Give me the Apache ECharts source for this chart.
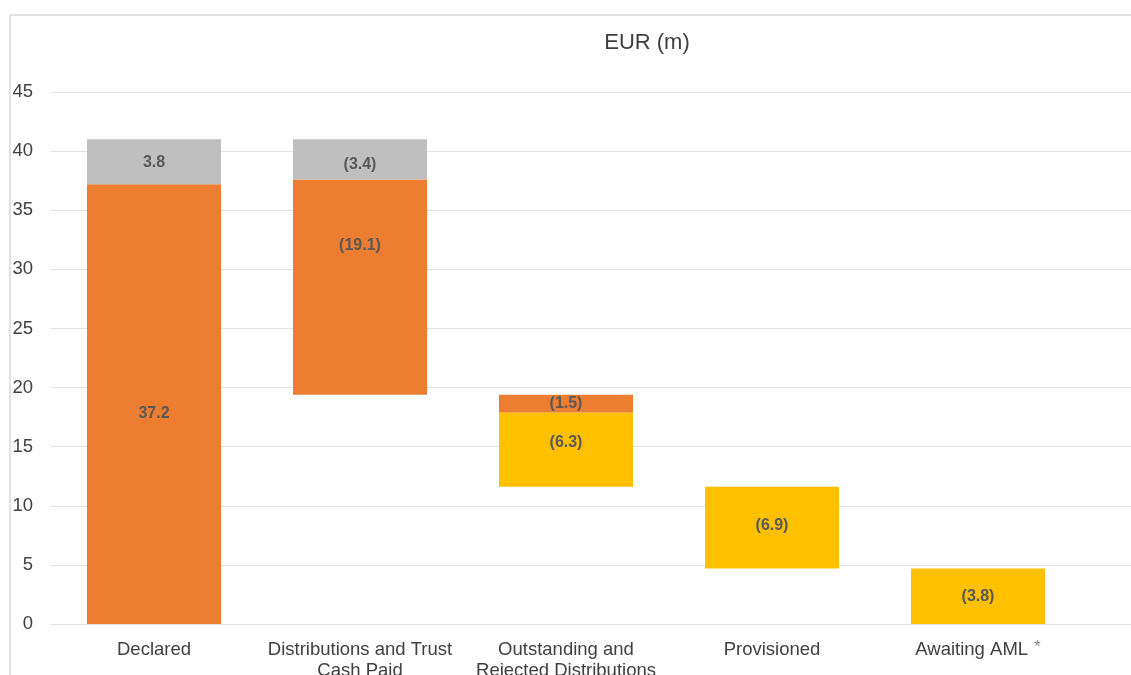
<!DOCTYPE html>
<html><head><meta charset="utf-8">
<script src="https://cdn.jsdelivr.net/npm/echarts@6/dist/echarts.min.js"></script>
<style>html,body{margin:0;padding:0;background:#fff;overflow:hidden}#c{width:1131px;height:675px}</style>
</head><body><div id="c"></div>
<script>
const categories = ['Declared', 'Distributions and Trust\nCash Paid', 'Outstanding and\nRejected Distributions', 'Provisioned', 'Awaiting AML'];
const baseValues   = [0, 19.4, 11.6, 4.7, 0];
const yellowValues = [0, 0, 6.3, 6.9, 4.7];
const orangeValues = [37.2, 18.2, 1.5, 0, 0];
const greyValues   = [3.8, 3.4, 0, 0, 0];
const yellowLabels = ['', '', '(6.3)', '(6.9)', '(3.8)'];
const orangeLabels = ['37.2', '(19.1)', '(1.5)', '', ''];
const greyLabels   = ['3.8', '(3.4)', '', '', ''];
const yTicks = [0, 5, 10, 15, 20, 25, 30, 35, 40, 45];

const FONT = 'Liberation Sans, Arial, sans-serif';
const chart = echarts.init(document.getElementById('c'));
const labelStyle = {show: true, position: 'inside', color: '#595959', fontWeight: 'bold', fontSize: 16, fontFamily: FONT};
function mk(vals, labels, extra) {
  return vals.map((v, i) => {
    const item = {value: v, label: Object.assign({}, labelStyle, {formatter: () => labels[i]})};
    if (!labels[i]) item.label.show = false;
    if (extra && extra[i]) Object.assign(item.label, extra[i]);
    return item;
  });
}
const yCommon = {type: 'value', min: 0, max: 45, interval: 5, axisLine: {show: false}, axisTick: {show: false}};
chart.setOption({
  animation: false,
  textStyle: {fontFamily: FONT},
  title: {text: 'EUR (m)', left: 642, top: 27, textAlign: 'center',
    textStyle: {fontSize: 22, fontWeight: 'normal', color: '#404040', fontFamily: FONT}},
  graphic: [{type: 'polyline', shape: {points: [[10, 675], [10, 15], [1131, 15]]},
    style: {stroke: '#d9d9d9', lineWidth: 1.5, fill: null}}],
  grid: [
    {left: 51, right: 50, top: 92, bottom: 51, containLabel: false, outerBoundsMode: 'none'},
    {left: 51, right: 0, top: 92, bottom: 51, containLabel: false, outerBoundsMode: 'none'}
  ],
  xAxis: [
    {type: 'category', data: categories, gridIndex: 0,
      axisLine: {show: false}, axisTick: {show: false},
      axisLabel: {interval: 0, margin: 15, fontSize: 18.5, color: '#404040', lineHeight: 21, fontFamily: FONT,
        formatter: (v) => v === 'Awaiting AML' ? v + '{s|*}' : v,
        rich: {s: {fontSize: 17, color: '#808080', verticalAlign: 'top', padding: [0, 0, 9, 6], fontFamily: FONT}}}},
    {type: 'value', gridIndex: 1, show: false, min: 0, max: 1}
  ],
  yAxis: [
    Object.assign({}, yCommon, {gridIndex: 0, axisLabel: {show: false}, splitLine: {show: false}}),
    Object.assign({}, yCommon, {gridIndex: 1,
      axisLabel: {fontSize: 18.5, color: '#404040', margin: 18, fontFamily: FONT,
        formatter: (v) => yTicks.includes(v) ? String(v) : ''},
      splitLine: {lineStyle: {color: '#e3e3e3', width: 1}}})
  ],
  series: [
    {type: 'bar', stack: 'w', barWidth: 134, data: baseValues, itemStyle: {color: 'transparent'}, silent: true},
    {type: 'bar', stack: 'w', barWidth: 134, data: mk(yellowValues, yellowLabels, {2: {offset: [0, -7]}, 3: {offset: [0, -2]}}), itemStyle: {color: '#FFC000'}},
    {type: 'bar', stack: 'w', barWidth: 134, data: mk(orangeValues, orangeLabels, {0: {offset: [0, 9]}, 1: {position: 'insideTop', distance: 58}}), itemStyle: {color: '#ED7D31'}},
    {type: 'bar', stack: 'w', barWidth: 134, data: mk(greyValues, greyLabels, {0: {offset: [0, 1]}, 1: {offset: [0, 5]}}), itemStyle: {color: '#BFBFBF'}}
  ]
});
</script></body></html>
